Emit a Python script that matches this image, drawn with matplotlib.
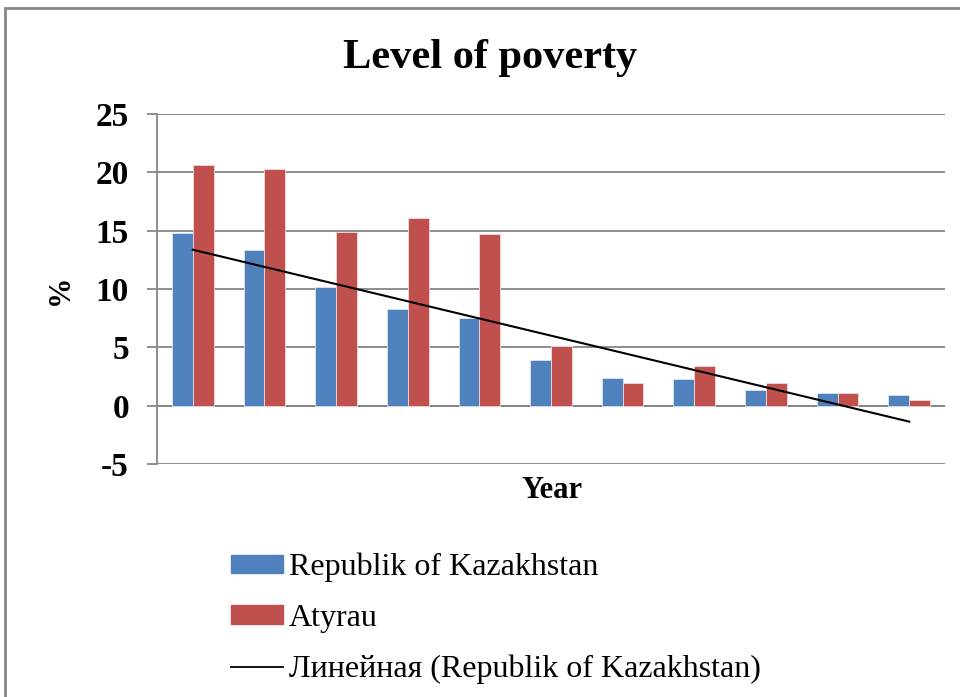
import numpy as np
import matplotlib.pyplot as plt
from matplotlib.patches import Rectangle, Patch
from matplotlib.lines import Line2D

# Poverty level, % (11 years, no year labels in the source chart)
kazakhstan = [14.8, 13.3, 10.2, 8.3, 7.5, 3.9, 2.4, 2.3, 1.3, 1.1, 0.9]
atyrau = [20.6, 20.3, 14.9, 16.1, 14.7, 5.1, 1.9, 3.4, 1.9, 1.1, 0.5]
yticks = [-5, 0, 5, 10, 15, 20, 25]

plt.rcParams['font.family'] = ['Liberation Serif', 'DejaVu Serif']

blue = '#4F81BD'
red = '#C0504D'
grey = '#868686'

fig = plt.figure(figsize=(9.6, 6.97), dpi=100)
W, H = 960, 697
ax = fig.add_axes([157 / W, 1 - 464 / H, (945 - 157) / W, (464 - 114) / H])

x = np.arange(len(kazakhstan))
w = 0.29
ax.bar(x - w / 2, kazakhstan, w, color=blue, edgecolor='#dce6f2', linewidth=0.6, zorder=3)
ax.bar(x + w / 2, atyrau, w, color=red, edgecolor='#f2dcdb', linewidth=0.6, zorder=3)

# linear trend of the Kazakhstan series
k, b = np.polyfit(x + 1, kazakhstan, 1)
ax.plot(x, k * (x + 1) + b, color='black', linewidth=1.5, zorder=4)

ax.set_xlim(-0.5, len(x) - 0.5)
ax.set_ylim(-5, 25)
ax.set_yticks(yticks)
ax.set_yticklabels([str(t) for t in yticks], fontsize=24, fontweight='bold')
ax.set_xticks([])
ax.grid(axis='y', color=grey, linewidth=1.3, zorder=0)
ax.axhline(0, color=grey, linewidth=1.3, zorder=2)
for s in ['top', 'right', 'bottom']:
    ax.spines[s].set_visible(False)
ax.spines['left'].set_color(grey)
ax.spines['left'].set_linewidth(1.3)
ax.tick_params(axis='y', length=7.2, color=grey, width=1.3, pad=13)

fig.text(552 / W, 1 - 491 / H, 'Year', ha='center', va='center',
         fontsize=22, fontweight='bold')
fig.text(60 / W, 1 - 290 / H, '%', ha='center', va='center', rotation=90,
         fontsize=22, fontweight='bold')
fig.text(490 / W, 1 - 68 / H, 'Level of poverty', ha='center', va='baseline',
         fontsize=30.5, fontweight='bold')

handles = [Patch(color=blue), Patch(color=red), Line2D([], [], color='black', linewidth=1.3)]
labels = ['Republik of Kazakhstan', 'Atyrau', 'Линейная (Republik of Kazakhstan)']
fig.legend(handles, labels, loc='upper left', bbox_to_anchor=(231 / W, 1 - 553 / H),
           frameon=False, fontsize=23, handlelength=1.63, handleheight=0.5,
           handletextpad=0.19, labelspacing=0.67, borderpad=0, borderaxespad=0)

# outer chart border (cut off at right and bottom)
fig.patches.append(Rectangle((5 / W, -0.1), 1.2, 1 - 8 / H + 0.1, transform=fig.transFigure,
                             fill=False, edgecolor=grey, linewidth=2))

fig.savefig('out.png', dpi=100)
